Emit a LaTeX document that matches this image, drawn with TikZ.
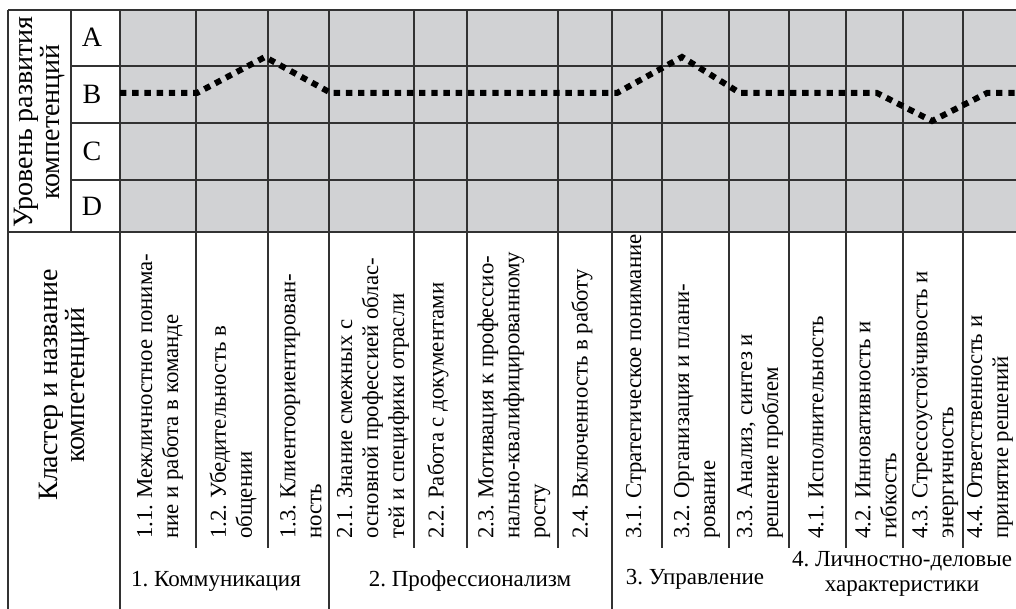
\documentclass[tikz,border=0pt]{standalone}
\usepackage{fontspec}
\setmainfont{Liberation Serif}
\frenchspacing
\definecolor{cellgray}{RGB}{209,210,212}
\definecolor{gridc}{RGB}{50,50,50}
\begin{document}
\begin{tikzpicture}[x=0.5pt,y=-0.5pt,
  gridline/.style={draw=gridc,line width=0.65pt},
  coltext/.style={rotate=90,anchor=west,align=left,inner sep=0pt,font=\fontsize{11.4}{13}\selectfont},
  biglabel/.style={rotate=90,align=center,inner sep=0pt,font=\fontsize{14}{13.5}\selectfont},
  levelletter/.style={inner sep=0pt,font=\fontsize{14}{14}\selectfont},
  clusterlabel/.style={align=center,inner sep=0pt,font=\fontsize{11.5}{12.8}\selectfont},
  profile/.style={draw=black,line width=3pt,dash pattern=on 3.2pt off 2.9pt}]
\useasboundingbox (0,0) rectangle (1016,609);
% grey level area
\fill[cellgray] (120,10) rectangle (1030,232);
% horizontal lines
\draw[gridline] (8,10) -- (1030,10);
\foreach \yy in {66,123,180} \draw[gridline] (71,\yy) -- (1030,\yy);
\draw[gridline] (8,232) -- (1030,232);
% vertical lines
\draw[gridline] (8,10) -- (8,615);
\draw[gridline] (71,10) -- (71,232);
\foreach \xx in {120,329,612} \draw[gridline] (\xx,10) -- (\xx,615);
\foreach \xx in {196,268,414,467,558,662,729,789,846,903,963} \draw[gridline] (\xx,10) -- (\xx,548);
% left labels
\node[biglabel] (lvl) at (40,122) {Уровень развития\\компетенций};
\node[biglabel] (clu) at (65,385) {Кластер и название\\компетенций};
\node[levelletter] (lA) at (92,37) {A};
\node[levelletter] (lB) at (92,94) {B};
\node[levelletter] (lC) at (92,151) {C};
\node[levelletter] (lD) at (92,206) {D};
% competence names
\node[coltext] (c11) at (160,539) {1.1. Межличностное понима-\\ние и работа в команде};
\node[coltext] (c12) at (233,539) {1.2. Убедительность в\\общении};
\node[coltext] (c13) at (301,539) {1.3. Клиентоориентирован-\\ность};
\node[coltext] (c21) at (373,539) {2.1. Знание смежных с\\основной профессией облас-\\тей и специфики отрасли};
\node[coltext] (c22) at (438,539) {2.2. Работа с документами};
\node[coltext] (c23) at (514,539) {2.3. Мотивация к профессио-\\нально-квалифицированному\\росту};
\node[coltext] (c24) at (582,539) {2.4. Включенность в работу};
\node[coltext] (c31) at (636,539) {3.1. Стратегическое понимание};
\node[coltext] (c32) at (697,539) {3.2. Организация и плани-\\рование};
\node[coltext] (c33) at (760,539) {3.3. Анализ, синтез и\\решение проблем};
\node[coltext] (c41) at (816,539) {4.1. Исполнительность};
\node[coltext] (c42) at (876,539) {4.2. Инновативность и\\гибкость};
\node[coltext] (c43) at (935,539) {4.3. Стрессоустойчивость и\\энергичность};
\node[coltext] (c44) at (990,539) {4.4. Ответственность и\\принятие решений};
% clusters
\node[clusterlabel] (k1) at (216,581) {1. Коммуникация};
\node[clusterlabel] (k2) at (470,581) {2. Профессионализм};
\node[clusterlabel] (k3) at (695,579) {3. Управление};
\node[clusterlabel] (k4) at (902,574) {4. Личностно-деловые\\характеристики};
% profile
\coordinate (p1) at (120,93);
\coordinate (p2) at (197,93);
\coordinate (p3) at (265,57);
\coordinate (p4) at (331,93);
\coordinate (p5) at (617,93);
\coordinate (p6) at (682,57);
\coordinate (p7) at (740,93);
\coordinate (p8) at (877,93);
\coordinate (p9) at (932,121);
\coordinate (p10) at (987,93);
\coordinate (p11) at (1020,93);
\draw[profile] (p1) -- (p2) -- (p3) -- (p4) -- (p5) -- (p6) -- (p7) -- (p8) -- (p9) -- (p10) -- (p11);
\end{tikzpicture}
\end{document}
